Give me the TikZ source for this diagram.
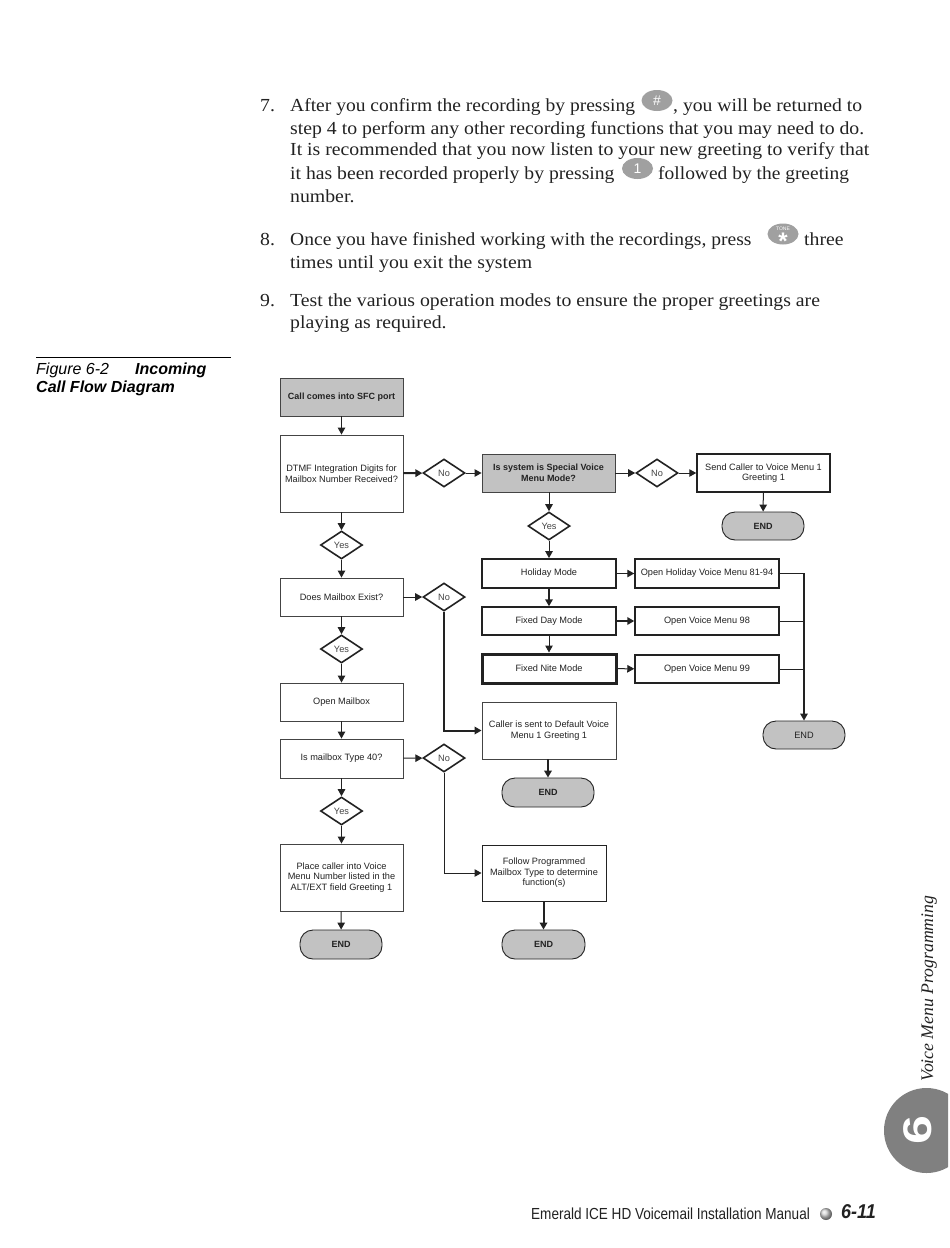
\documentclass[tikz,border=0pt]{standalone}
\usepackage{fontspec}
\setmainfont{Liberation Serif}
\setsansfont{Liberation Sans}
\usetikzlibrary{shapes.geometric,arrows.meta}
\definecolor{boxgray}{HTML}{C2C2C2}
\definecolor{keygray}{HTML}{A0A0A0}
\definecolor{tabgray}{HTML}{808080}
\definecolor{ink}{HTML}{222222}
\definecolor{softink}{HTML}{444444}
\tikzset{
  flowbox/.style={draw=softink,line width=0.9pt,fill=white,rectangle,inner sep=0pt,align=center,text=ink,font=\sffamily\fontsize{9.2}{10.5}\selectfont},
  graybox/.style={flowbox,fill=boxgray,font=\sffamily\bfseries\fontsize{9}{10.5}\selectfont},
  endbox/.style={flowbox,draw=ink,fill=boxgray,rounded corners=13pt,font=\sffamily\bfseries\fontsize{9}{10.5}\selectfont},
  choice/.style={diamond,draw=ink,line width=1.6pt,fill=white,minimum width=42pt,minimum height=28pt,inner sep=0pt,text=softink,font=\sffamily\fontsize{9.2}{10.5}\selectfont},
  link/.style={draw=ink,line width=1pt,-{Triangle[length=7pt,width=7.5pt]}},
  plainlink/.style={draw=ink,line width=0.9pt},
  heavy/.style={line width=2pt},
  bodytxt/.style={anchor=base west,inner sep=0pt,text=ink,transform shape,xscale=1.074,font=\fontsize{18.4}{20}\selectfont},
  keycap/.style={ellipse,fill=keygray,inner sep=0pt,minimum width=31pt,minimum height=21pt,text=white,font=\sffamily\fontsize{14}{14}\selectfont},
  captxt/.style={anchor=base west,inner sep=0pt,text=black,font=\sffamily\itshape\fontsize{16}{18}\selectfont},
}
\begin{document}
\begin{tikzpicture}[x=1pt,y=-1pt]
\useasboundingbox (0,0) rectangle (950,1248);
\fill[white] (0,0) rectangle (950,1248);

% body text
\node[bodytxt] (n7) at (260,111) {7.};
\node[bodytxt,xscale=0.988] (l1) at (290,111) {After you confirm the recording by pressing};
\node[keycap] (khash) at (657,100.5) {\#};
\node[bodytxt,xscale=0.995] (l1b) at (673,111) {, you will be returned to};
\node[bodytxt] (l2) at (290,134) {step 4 to perform any other recording functions that you may need to do.};
\node[bodytxt] (l3) at (290,155) {It is recommended that you now listen to your new greeting to verify that};
\node[bodytxt,xscale=0.995] (l4) at (290,179) {it has been recorded properly by pressing};
\node[keycap] (kone) at (637.5,168.5) {1};
\node[bodytxt,xscale=0.985] (l4b) at (658,179) {followed by the greeting};
\node[bodytxt] (l5) at (290,202) {number.};
\node[bodytxt] (n8) at (260,245) {8.};
\node[bodytxt,xscale=0.99] (l6) at (290,245) {Once you have finished working with the recordings, press};
\node[keycap] (ktone) at (783,234) {};
\node[text=white,inner sep=0pt,font=\sffamily\fontsize{5}{5}\selectfont] (ktonea) at (783,228.5) {TONE};
\node[text=white,inner sep=0pt,font=\sffamily\bfseries\fontsize{24}{24}\selectfont] (ktoneb) at (783,241) {*};
\node[bodytxt] (l6b) at (804,245) {three};
\node[bodytxt] (l7) at (290,268) {times until you exit the system};
\node[bodytxt] (n9) at (260,306) {9.};
\node[bodytxt] (l8) at (290,306) {Test the various operation modes to ensure the proper greetings are};
\node[bodytxt] (l9) at (290,328) {playing as required.};

% caption
\draw[line width=1pt] (36,357) -- (231,357);
\node[captxt] (c1) at (36,374) {Figure 6-2};
\node[captxt,font=\sffamily\itshape\bfseries\fontsize{16}{18}\selectfont] (c2) at (135,374) {Incoming};
\node[captxt,font=\sffamily\itshape\bfseries\fontsize{16}{18}\selectfont] (c3) at (36,392) {Call Flow Diagram};

% flow: left column
\node[graybox,minimum width=123pt,minimum height=38pt] (call) at (341.5,397) {Call comes into SFC port};
\node[flowbox,minimum width=123pt,minimum height=77pt] (dtmf) at (341.5,473.5) {DTMF Integration Digits for\\Mailbox Number Received?};
\node[choice] (y1) at (341.5,545) {Yes};
\node[flowbox,minimum width=123pt,minimum height=38pt] (exist) at (341.5,597) {Does Mailbox Exist?};
\node[choice] (y2) at (341.5,649) {Yes};
\node[flowbox,minimum width=123pt,minimum height=38pt] (open) at (341.5,702) {Open Mailbox};
\node[flowbox,minimum width=123pt,minimum height=39pt] (type) at (341.5,758.5) {Is mailbox Type 40?};
\node[choice] (y3) at (341.5,811) {Yes};
\node[flowbox,minimum width=123pt,minimum height=67pt] (place) at (341.5,877.5) {Place caller into Voice\\Menu Number listed in the\\ALT/EXT field Greeting 1};
\node[endbox,minimum width=82pt,minimum height=29pt] (end1) at (341,944.5) {END};

% middle diamonds
\node[choice] (n1) at (444,473) {No};
\node[choice] (n2) at (444,597) {No};
\node[choice] (n3) at (444,758) {No};

% middle column
\node[graybox,minimum width=133pt,minimum height=38pt] (special) at (548.5,473) {Is system is Special Voice\\Menu Mode?};
\node[choice] (y4) at (549,526) {Yes};
\node[flowbox,draw=ink,line width=1.8pt,minimum width=134pt,minimum height=29pt] (holiday) at (549,573.5) {Holiday Mode};
\node[flowbox,draw=ink,line width=1.5pt,minimum width=134pt,minimum height=28pt] (day) at (549,621) {Fixed Day Mode};
\node[flowbox,draw=ink,line width=3pt,minimum width=134pt,minimum height=29pt] (nite) at (549,668.5) {Fixed Nite Mode};
\node[flowbox,minimum width=134pt,minimum height=57pt] (default) at (549,730.5) {Caller is sent to Default Voice\\Menu 1 Greeting 1};
\node[endbox,minimum width=92pt,minimum height=29pt] (end2) at (548,792.5) {END};
\node[flowbox,draw=ink,line width=1pt,minimum width=124pt,minimum height=56pt] (follow) at (544,873) {Follow Programmed\\Mailbox Type to determine\\function(s)};
\node[endbox,minimum width=83pt,minimum height=29pt] (end3) at (543.5,944.5) {END};

% right side
\node[choice] (n4) at (657,473) {No};
\node[flowbox,draw=ink,line width=1.5pt,minimum width=133pt,minimum height=38pt] (send) at (763.5,473) {Send Caller to Voice Menu 1\\Greeting 1};
\node[endbox,minimum width=82pt,minimum height=28pt] (end4) at (763,526) {END};
\node[flowbox,draw=ink,line width=1.5pt,minimum width=144pt,minimum height=29pt] (ohol) at (707,573.5) {Open Holiday Voice Menu 81-94};
\node[flowbox,draw=ink,line width=1.5pt,minimum width=144pt,minimum height=28pt] (o98) at (707,621) {Open Voice Menu 98};
\node[flowbox,draw=ink,line width=1.5pt,minimum width=144pt,minimum height=28pt] (o99) at (707,669) {Open Voice Menu 99};
\node[endbox,font=\sffamily\fontsize{9.2}{10.5}\selectfont,minimum width=82pt,minimum height=28pt] (end5) at (804,735) {END};

% connectors
\draw[link] (call) -- (dtmf);
\draw[link] (dtmf) -- (y1);
\draw[link] (y1) -- (exist);
\draw[link] (exist) -- (y2);
\draw[link] (y2) -- (open);
\draw[link] (open) -- (type);
\draw[link] (type) -- (y3);
\draw[link] (y3) -- (place);
\draw[link] (place) -- (end1);
\draw[link,heavy] (dtmf) -- (n1);
\draw[link] (n1) -- (special);
\draw[link] (exist) -- (n2);
\draw[link] (type) -- (n3);
\draw[link,heavy] (n2.south) |- (default.west);
\draw[link] (n3.south) |- (follow.west);
\draw[link,heavy] (default.south -| end2.north) -- (end2.north);
\draw[link,heavy] (follow.south -| end3.north) -- (end3.north);
\draw[link] (special) -- (n4);
\draw[link] (n4) -- (send);
\draw[link] (send) -- (end4);
\draw[link] (special.south -| y4.north) -- (y4.north);
\draw[link] (y4) -- (holiday);
\draw[link,heavy] (holiday) -- (day);
\draw[link] (day) -- (nite);
\draw[link] (holiday) -- (ohol);
\draw[link,heavy] (day) -- (o98);
\draw[link] (nite) -- (o99);
\draw[link,line width=1.3pt] (ohol.east) -| (end5.north);
\draw[plainlink] (o98.east) -- (o98.east -| end5.north);
\draw[plainlink] (o99.east) -- (o99.east -| end5.north);

% side tab
\begin{scope}
\clip (870,1080) rectangle (948,1180);
\fill[tabgray] (926.5,1130.5) circle (42.5);
\end{scope}
\node[rotate=90,text=white,inner sep=0pt,font=\sffamily\bfseries\fontsize{40}{40}\selectfont] (six) at (918,1130) {\scalebox{1.3}[1]{6}};
\node[rotate=90,anchor=base west,inner sep=0pt,text=ink,font=\itshape\fontsize{17.7}{18}\selectfont] (side) at (933,1082) {Voice Menu Programming};

% footer
\node[anchor=base west,inner sep=0pt,text=ink,font=\sffamily\fontsize{16}{18}\selectfont,transform shape,xscale=0.847] (foot) at (531,1219) {Emerald ICE HD Voicemail Installation Manual};
\shade[ball color=gray!35] (826,1214) circle (6);
\node[anchor=base west,inner sep=0pt,text=ink,font=\sffamily\bfseries\itshape\fontsize{20}{20}\selectfont,transform shape,xscale=0.9] (pg) at (841,1218) {6-11};
\end{tikzpicture}
\end{document}
